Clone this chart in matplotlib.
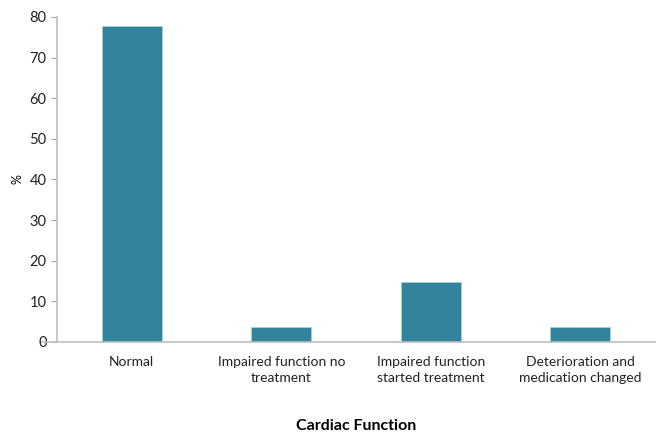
import matplotlib
matplotlib.use("Agg")
import matplotlib.pyplot as plt

categories = ["Normal", "Impaired function no\ntreatment",
              "Impaired function\nstarted treatment",
              "Deterioration and\nmedication changed"]
values = [77.8, 3.7, 14.8, 3.7]
yticks = [0, 10, 20, 30, 40, 50, 60, 70, 80]

plt.rcParams["font.family"] = ["Lato", "DejaVu Sans"]

fig = plt.figure(figsize=(6.6, 4.34), dpi=100)
ax = fig.add_axes([0.0864, 0.212, 0.906, 0.749])

x = range(len(categories))
ax.bar(x, values, width=0.4, color="#31849B", edgecolor="#A9CDD8", linewidth=0.6)

ax.set_xlim(-0.5, len(categories) - 0.5)
ax.set_ylim(0, 80)
ax.set_yticks(yticks)
ax.set_xticks(list(x))
ax.set_xticklabels(categories, fontsize=10, color="#222222", linespacing=1.45)
ax.tick_params(axis="x", length=0, pad=10)
ax.tick_params(axis="y", length=4, color="#A6A6A6", labelsize=10.5, labelcolor="#222222")

for side in ("top", "right"):
    ax.spines[side].set_visible(False)
for side in ("left", "bottom"):
    ax.spines[side].set_color("#BFBFBF")
    ax.spines[side].set_linewidth(1.2)

# extend the baseline slightly to the left of the value axis
ax.plot([-0.6, -0.5], [0, 0], color="#BFBFBF", linewidth=1.2, clip_on=False)

ax.set_ylabel("%", fontsize=9, rotation=90, labelpad=4)
ax.set_xlabel("Cardiac Function", fontsize=11.5, fontweight="bold", labelpad=25)

fig.savefig("out.png", dpi=100)
